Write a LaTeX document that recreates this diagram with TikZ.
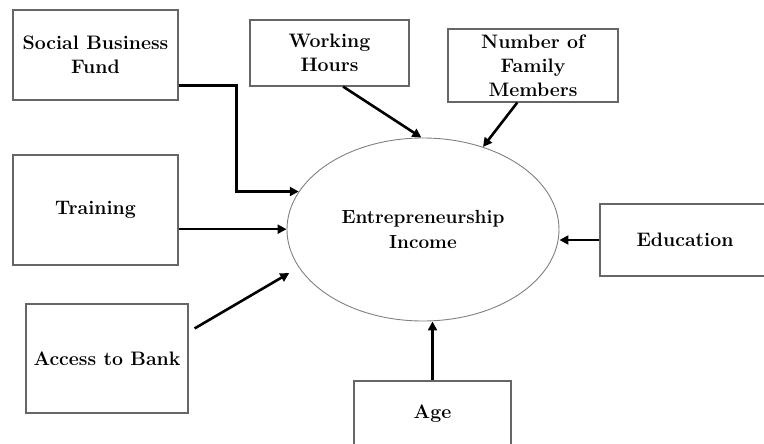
\documentclass[tikz,border=0pt]{standalone}
\usepackage{tikz}
\usetikzlibrary{arrows.meta,shapes.geometric}

\begin{document}
\begin{tikzpicture}[x=1pt,y=-1pt,
  factor/.style={draw=black!60,line width=1.1pt,rectangle,align=center,inner sep=0pt,
    font=\fontsize{19.5}{24}\selectfont\bfseries},
  outcome/.style={draw=black!50,line width=0.9pt,ellipse,align=center,inner sep=0pt,
    minimum width=272pt,minimum height=183pt,font=\fontsize{19}{25}\selectfont\bfseries},
  link/.style={line width=2.6pt,-{Triangle[length=9pt,width=9pt]}}]
\useasboundingbox (0,0) rectangle (764,444);

% Factors
\node[factor,minimum width=165pt,minimum height=90pt] (fund) at (95.5,55) {Social Business\\Fund};
\node[factor,minimum width=159pt,minimum height=66pt] (hours) at (329.5,53) {Working\\Hours};
\node[factor,minimum width=170pt,minimum height=73pt] (family) at (533,65.5) {Number of\\Family\\Members};
\node[factor,minimum width=165pt,minimum height=110pt] (training) at (95.5,210) {Training};
\node[factor,minimum width=170pt,minimum height=72pt] (education) at (685,240) {Education};
\node[factor,minimum width=162pt,minimum height=109pt] (bank) at (107,358.5) {Access to Bank};
\node[factor,minimum width=157pt,minimum height=66pt] (age) at (432.5,414) {Age};

% Outcome
\node[outcome] (income) at (423,229.5) {Entrepreneurship\\Income};

% Arrows into the outcome
\draw[link] (fund.-20) -- ++(58,0) |- (income.163);
\draw[link] (hours.-68) -- (income.91);
\draw[link] (family.-113) -- (income.54);
\draw[link] (training.-13) -- (training.-13 -| income.west);
\draw[link] (education.west) -- (education.west -| income.east);
\draw[link,shorten <=7pt,shorten >=11pt] (bank.18) -- (income.197);
\draw[link] (age.north) -- (age.north |- income.south);
\end{tikzpicture}
\end{document}
